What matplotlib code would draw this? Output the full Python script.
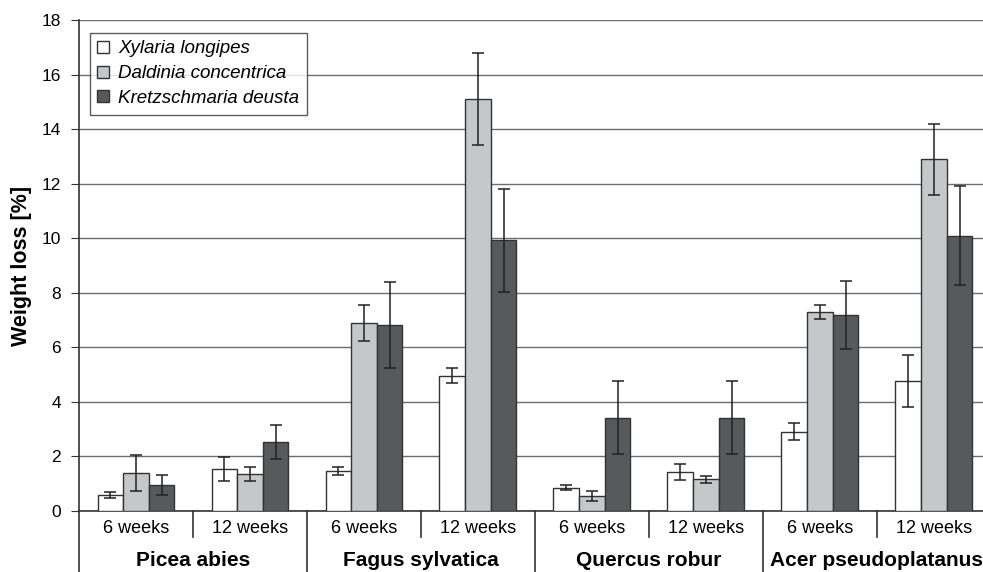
import numpy as np
import matplotlib.pyplot as plt
import matplotlib.transforms as mtransforms

plt.rcParams['font.family'] = ['Liberation Sans', 'DejaVu Sans']

# data
species = ['Picea abies', 'Fagus sylvatica', 'Quercus robur', 'Acer pseudoplatanus']
weeks = ['6 weeks', '12 weeks']
fungi = ['Xylaria longipes', 'Daldinia concentrica', 'Kretzschmaria deusta']

xylaria = [0.59, 1.54, 1.47, 4.96, 0.86, 1.44, 2.91, 4.77]
xylaria_err = [0.12, 0.43, 0.14, 0.28, 0.08, 0.30, 0.30, 0.96]
daldinia = [1.39, 1.36, 6.90, 15.10, 0.54, 1.16, 7.30, 12.90]
daldinia_err = [0.65, 0.25, 0.65, 1.70, 0.18, 0.12, 0.25, 1.30]
kretzschmaria = [0.95, 2.53, 6.82, 9.92, 3.42, 3.42, 7.20, 10.10]
kretzschmaria_err = [0.36, 0.62, 1.56, 1.88, 1.34, 1.34, 1.25, 1.80]

colors = ['#ffffff', '#c6c7c9', '#58595b']

fig = plt.figure(figsize=(9.83, 5.72), dpi=100)
ax = fig.add_axes([0.0804, 0.1066, 1.008 - 0.0804, 0.965 - 0.1066])

x = np.arange(len(xylaria))
w = 0.225
series = [(xylaria, xylaria_err), (daldinia, daldinia_err), (kretzschmaria, kretzschmaria_err)]
for i, (vals, errs) in enumerate(series):
    ax.bar(x + (i - 1) * w, vals, w, yerr=errs, color=colors[i], edgecolor='#333333',
           linewidth=1.0, label=fungi[i], zorder=3,
           error_kw=dict(ecolor='#222222', elinewidth=1.1, capsize=4, capthick=1.1))

ax.set_xlim(-0.5, 7.5)
ax.set_ylim(0, 18)
ax.set_yticks(range(0, 19, 2))
ax.tick_params(axis='y', labelsize=12.5, direction='out', length=6, pad=7, color='#333333')
ax.set_xticks([])
ax.yaxis.grid(True, color='#6d6d6d', linewidth=1.0, zorder=0)
ax.set_axisbelow(True)
for s in ['top', 'right']:
    ax.spines[s].set_visible(False)
ax.spines['left'].set_color('#333333')
ax.spines['bottom'].set_color('#333333')
ax.spines['left'].set_linewidth(1.2)
ax.spines['bottom'].set_linewidth(1.2)
ax.set_ylabel('Weight loss [%]', fontsize=15.5, fontweight='bold', labelpad=7)

# two-level category axis
trans = mtransforms.blended_transform_factory(ax.transData, ax.transAxes)
for i in range(len(x)):
    ax.text(x[i], -0.035, weeks[i % 2], transform=trans, ha='center', va='center', fontsize=13)
for j, sp in enumerate(species):
    ax.text(2 * j + 0.5, -0.1, sp, transform=trans, ha='center', va='center',
            fontsize=15, fontweight='bold')
for b in np.arange(-0.5, 8.0, 1.0):
    bottom = -0.13 if int(b + 0.5) % 2 == 0 else -0.053
    ax.plot([b, b], [0, bottom], transform=trans, color='#333333', linewidth=1.2, clip_on=False)

leg = ax.legend(loc='upper left', bbox_to_anchor=(0.012, 0.974), fontsize=13.5, frameon=True,
                fancybox=False, borderpad=0.4, handlelength=0.6, handleheight=0.6,
                handletextpad=0.5, labelspacing=0.42, borderaxespad=0)
leg.get_frame().set_edgecolor('#333333')
leg.get_frame().set_linewidth(1.0)
for t in leg.get_texts():
    t.set_fontstyle('italic')
for h in leg.legend_handles:
    h.set_edgecolor('#333333')

fig.savefig('out.png', dpi=100)
